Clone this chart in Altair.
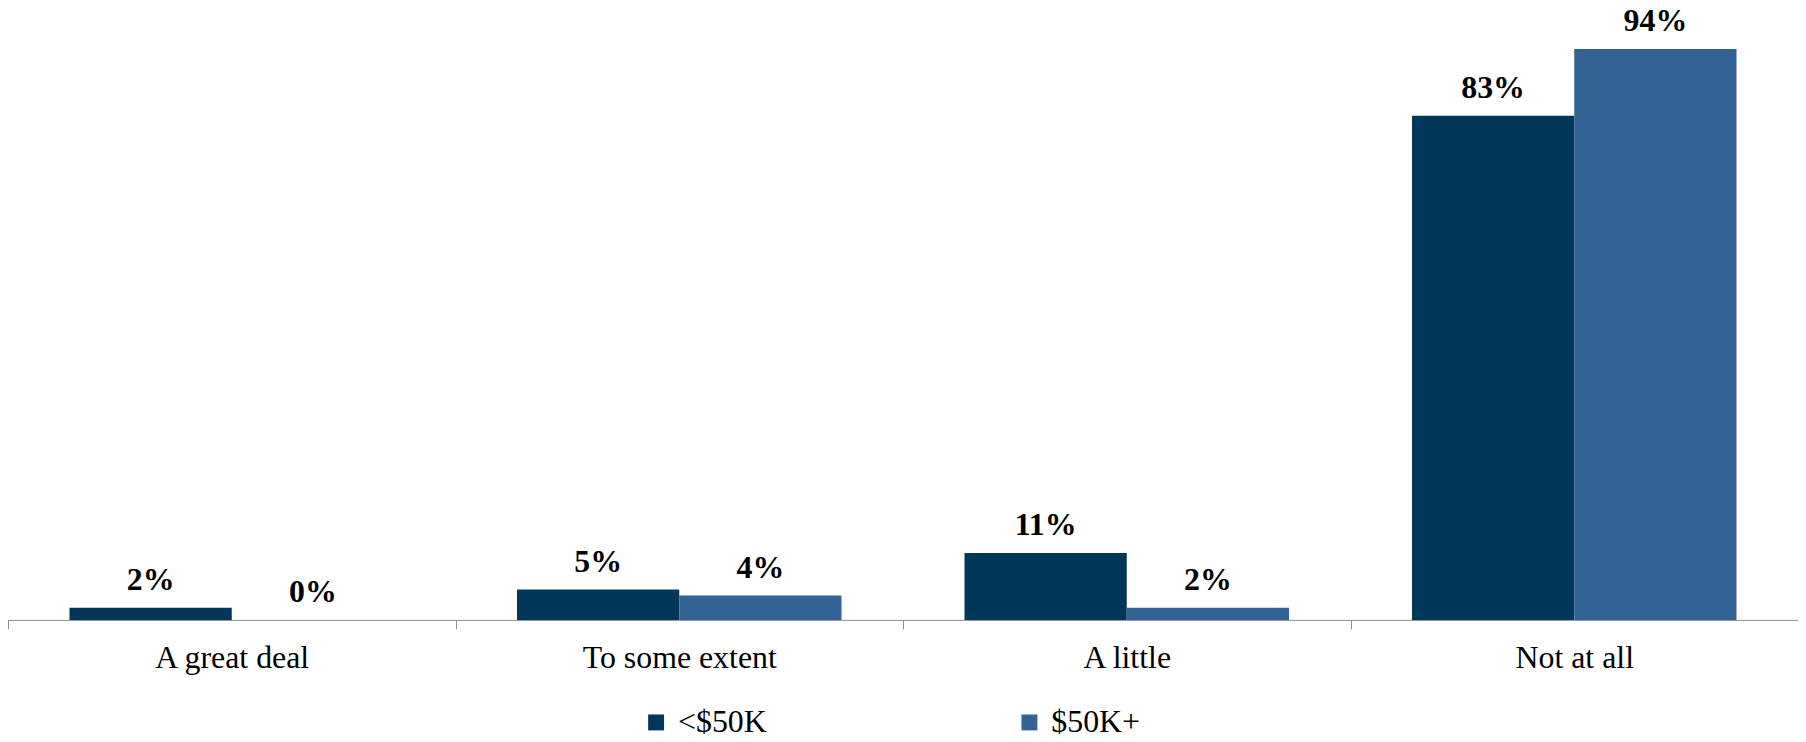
import altair as alt
import pandas as pd

categories = ["A great deal", "To some extent", "A little", "Not at all"]
series = ["<$50K", "$50K+"]
under_50k = [2, 5, 11, 83]
over_50k = [0, 4, 2, 94]
colors = ["#02375A", "#336294"]

rows = []
for i, c in enumerate(categories):
    rows.append({"category": c, "series": series[0], "value": under_50k[i]})
    rows.append({"category": c, "series": series[1], "value": over_50k[i]})
df = pd.DataFrame(rows)

FONT = "Liberation Serif"

base = alt.Chart(df).encode(
    x=alt.X(
        "category:N",
        sort=categories,
        scale=alt.Scale(paddingInner=0, paddingOuter=0),
        axis=alt.Axis(
            title=None, labelAngle=0, tickBand="extent", tickSize=9,
            tickColor="#8c8c8c", domainColor="#8c8c8c", domainWidth=1,
            labelFont=FONT, labelFontSize=32, labelColor="black",
            labelPadding=14, labelLimit=0, grid=False,
        ),
    ),
    xOffset=alt.XOffset(
        "series:N", sort=series,
        scale=alt.Scale(paddingInner=0, paddingOuter=0.379),
    ),
    y=alt.Y("value:Q", scale=alt.Scale(domain=[0, 100]), axis=None),
)

bars = base.mark_bar().encode(
    color=alt.Color(
        "series:N", sort=series,
        scale=alt.Scale(domain=series, range=colors),
        legend=alt.Legend(
            orient="none", legendX=635, legendY=697, direction="horizontal",
            title=None, symbolType="square", symbolSize=256,
            symbolStrokeWidth=0, labelFont=FONT, labelFontSize=32,
            labelColor="black", columnPadding=247, labelOffset=6, padding=0,
            labelLimit=0,
        ),
    )
)

labels = base.mark_text(
    font=FONT, fontSize=32, fontWeight="bold", dy=-18,
    baseline="alphabetic", color="black",
).encode(text="label:N").transform_calculate(label="datum.value + '%'")

chart = alt.layer(bars, labels).properties(
    width=1798, height=610,
    autosize=alt.AutoSizeParams(type="none"),
    padding={"left": 0, "top": 3, "right": 0, "bottom": 121},
).configure_view(stroke=None)

chart.save("out.html", embed_options={"renderer": "svg", "actions": False})
